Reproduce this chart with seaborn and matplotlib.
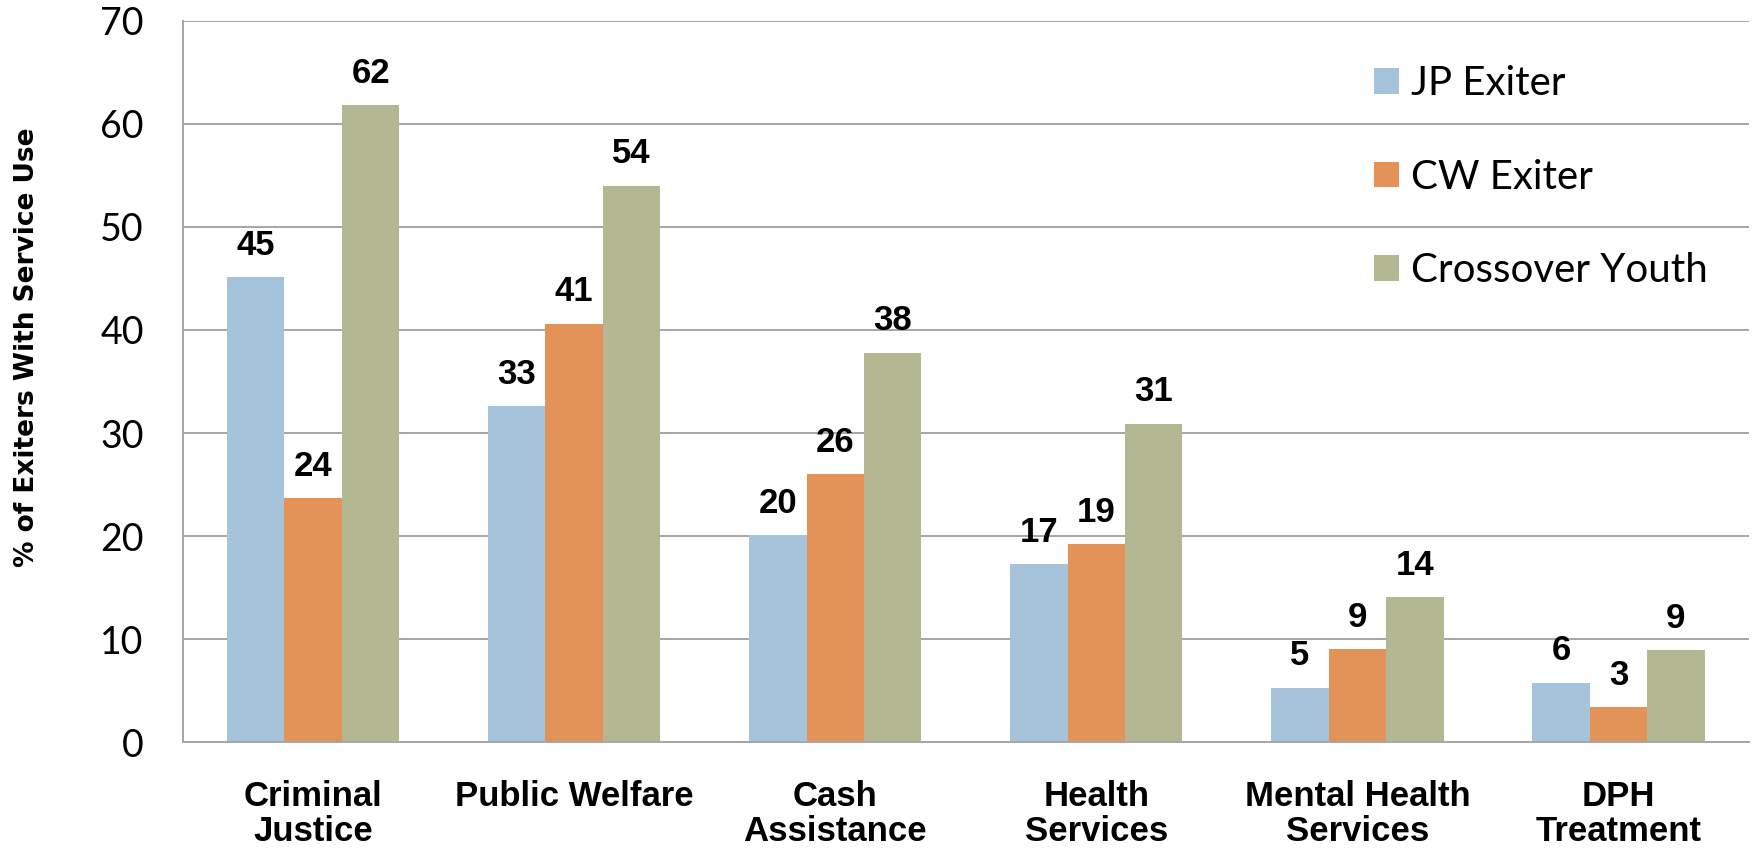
import pandas as pd
import matplotlib
matplotlib.use("Agg")
import matplotlib.pyplot as plt
from matplotlib.ticker import FixedLocator
import seaborn as sns

# Dados do gráfico
categorias = ["Criminal\nJustice", "Public Welfare", "Cash\nAssistance",
              "Health\nServices", "Mental Health\nServices", "DPH\nTreatment"]
grupos = ["JP Exiter", "CW Exiter", "Crossover Youth"]
jp_exiter = [45.1, 32.6, 20.1, 17.3, 5.3, 5.8]
cw_exiter = [23.7, 40.6, 26.0, 19.2, 9.05, 3.4]
crossover = [61.8, 54.0, 37.8, 30.9, 14.1, 8.95]
cores = ["#A5C3DA", "#E39358", "#B3B892"]

series = [jp_exiter, cw_exiter, crossover]
df = pd.DataFrame({
    "categoria": categorias * 3,
    "grupo": [g for g in grupos for _ in categorias],
    "valor": jp_exiter + cw_exiter + crossover,
})

sns.set_style("white")
plt.rcParams["text.color"] = "black"
plt.rcParams["xtick.labelcolor"] = "black"
plt.rcParams["ytick.labelcolor"] = "black"
plt.rcParams["axes.labelcolor"] = "black"
cinza = "#A6A6A6"

fig = plt.figure(figsize=(17.56, 8.51), dpi=100)
ax = fig.add_axes([0.104, 0.1277, 0.892, 0.848])

sns.barplot(data=df, x="categoria", y="valor", hue="grupo", hue_order=grupos,
            palette=cores, saturation=1, width=0.66, errorbar=None,
            linewidth=0, ax=ax)

# Rótulos de valor acima das barras
for cont, vals in zip(ax.containers, series):
    ax.bar_label(cont, labels=[f"{round(v)}" for v in vals], padding=11,
                 fontsize=25, fontweight="bold", family="Liberation Sans",
                 color="black")

ax.set_ylim(0, 70)
ax.set_xlim(-0.5, 5.5)
ax.set_yticks(range(0, 71, 10))
ax.yaxis.grid(True, color=cinza, linewidth=1.4)
ax.set_axisbelow(True)

for s in ["top", "right"]:
    ax.spines[s].set_visible(False)
for s in ["left", "bottom"]:
    ax.spines[s].set_color(cinza)
    ax.spines[s].set_linewidth(1.4)

ax.tick_params(axis="y", length=9, width=1.4, color=cinza, pad=19, labelsize=27)
for lbl in ax.get_yticklabels():
    lbl.set_family("Lato")

ax.tick_params(axis="x", which="major", length=0, pad=27)
ax.xaxis.set_minor_locator(FixedLocator([i - 0.5 for i in range(7)]))
ax.tick_params(axis="x", which="minor", length=8, width=1.4, color=cinza)
ax.set_xticks(range(len(categorias)))
ax.set_xticklabels(categorias, fontsize=25, fontweight="bold",
                   family="Liberation Sans", linespacing=1.1)
ax.set_xlabel("")

ax.set_ylabel("% of Exiters With Service Use", fontsize=19, fontweight="bold",
              family="DejaVu Sans")
ax.yaxis.set_label_coords(-0.091, 0.548)

handles, labels = ax.get_legend_handles_labels()
ax.legend(handles, labels, loc="upper left", bbox_to_anchor=(0.7606, 0.938),
          frameon=False, borderpad=0, borderaxespad=0,
          handlelength=0.62, handleheight=0.6, handletextpad=0.3,
          labelspacing=1.4, prop={"family": "Lato", "size": 29})

fig.savefig("out.png", dpi=100)
